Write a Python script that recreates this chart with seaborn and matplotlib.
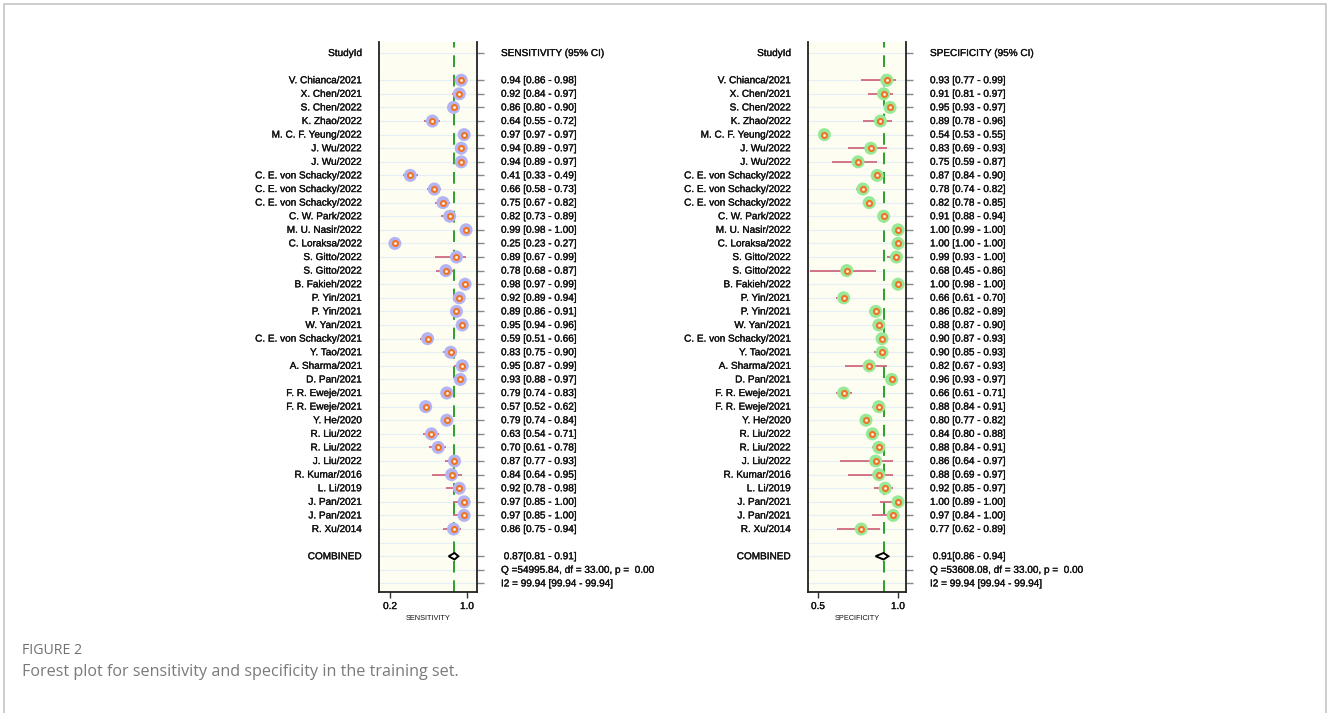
import numpy as np
import pandas as pd
import matplotlib
matplotlib.use("Agg")
import matplotlib.pyplot as plt
import matplotlib.transforms as mtransforms
import matplotlib.patheffects as pe
from matplotlib.lines import Line2D
from matplotlib.patches import Polygon
import seaborn as sns

# study labels (top to bottom)
studies = ["V. Chianca/2021", "X. Chen/2021", "S. Chen/2022", "K. Zhao/2022",
           "M. C. F. Yeung/2022", "J. Wu/2022", "J. Wu/2022",
           "C. E. von Schacky/2022", "C. E. von Schacky/2022", "C. E. von Schacky/2022",
           "C. W. Park/2022", "M. U. Nasir/2022", "C. Loraksa/2022", "S. Gitto/2022",
           "S. Gitto/2022", "B. Fakieh/2022", "P. Yin/2021", "P. Yin/2021", "W. Yan/2021",
           "C. E. von Schacky/2021", "Y. Tao/2021", "A. Sharma/2021", "D. Pan/2021",
           "F. R. Eweje/2021", "F. R. Eweje/2021", "Y. He/2020", "R. Liu/2022",
           "R. Liu/2022", "J. Liu/2022", "R. Kumar/2016", "L. Li/2019", "J. Pan/2021",
           "J. Pan/2021", "R. Xu/2014"]

sens = [0.94, 0.92, 0.86, 0.64, 0.97, 0.94, 0.94, 0.41, 0.66, 0.75, 0.82, 0.99, 0.25, 0.89,
        0.78, 0.98, 0.92, 0.89, 0.95, 0.59, 0.83, 0.95, 0.93, 0.79, 0.57, 0.79, 0.63, 0.70,
        0.87, 0.84, 0.92, 0.97, 0.97, 0.86]
sens_lo = [0.86, 0.84, 0.80, 0.55, 0.97, 0.89, 0.89, 0.33, 0.58, 0.67, 0.73, 0.98, 0.23, 0.67,
           0.68, 0.97, 0.89, 0.86, 0.94, 0.51, 0.75, 0.87, 0.88, 0.74, 0.52, 0.74, 0.54, 0.61,
           0.77, 0.64, 0.78, 0.85, 0.85, 0.75]
sens_hi = [0.98, 0.97, 0.90, 0.72, 0.97, 0.97, 0.97, 0.49, 0.73, 0.82, 0.89, 1.00, 0.27, 0.99,
           0.87, 0.99, 0.94, 0.91, 0.96, 0.66, 0.90, 0.99, 0.97, 0.83, 0.62, 0.84, 0.71, 0.78,
           0.93, 0.95, 0.98, 1.00, 1.00, 0.94]

spec = [0.93, 0.91, 0.95, 0.89, 0.54, 0.83, 0.75, 0.87, 0.78, 0.82, 0.91, 1.00, 1.00, 0.99,
        0.68, 1.00, 0.66, 0.86, 0.88, 0.90, 0.90, 0.82, 0.96, 0.66, 0.88, 0.80, 0.84, 0.88,
        0.86, 0.88, 0.92, 1.00, 0.97, 0.77]
spec_lo = [0.77, 0.81, 0.93, 0.78, 0.53, 0.69, 0.59, 0.84, 0.74, 0.78, 0.88, 0.99, 1.00, 0.93,
           0.45, 0.98, 0.61, 0.82, 0.87, 0.87, 0.85, 0.67, 0.93, 0.61, 0.84, 0.77, 0.80, 0.84,
           0.64, 0.69, 0.85, 0.89, 0.84, 0.62]
spec_hi = [0.99, 0.97, 0.97, 0.96, 0.55, 0.93, 0.87, 0.90, 0.82, 0.85, 0.94, 1.00, 1.00, 1.00,
           0.86, 1.00, 0.70, 0.89, 0.90, 0.93, 0.93, 0.93, 0.97, 0.71, 0.91, 0.82, 0.88, 0.91,
           0.97, 0.97, 0.97, 1.00, 1.00, 0.89]

sens_pooled = [0.87, 0.81, 0.91]
spec_pooled = [0.91, 0.86, 0.94]
sens_q = "Q =54995.84, df = 33.00, p =  0.00"
spec_q = "Q =53608.08, df = 33.00, p =  0.00"
sens_i2 = "I2 = 99.94 [99.94 - 99.94]"
spec_i2 = "I2 = 99.94 [99.94 - 99.94]"

W, H = 1328, 713
sns.set_style("white")
plt.rcParams["font.family"] = ["Liberation Sans", "DejaVu Sans"]

fig = plt.figure(figsize=(W / 100, H / 100), dpi=100)

FS = 7.2
TXT = "#111111"
bold_fx = [pe.withStroke(linewidth=0.22, foreground=TXT)]
n = len(studies)
study_rows = np.arange(2, 2 + n)
comb_row, q_row, i2_row = n + 3, n + 4, n + 5


def px(x):
    return x / W


def put(ax, x, y, s, tr, ha):
    ax.text(x, y, s, transform=tr, ha=ha, va="center", fontsize=FS, color=TXT,
            path_effects=bold_fx)


def draw_panel(left_px, est, lo, hi, pooled, q_text, i2_text, name, xlim, xticks,
               bubble, label_right_px, value_left_px):
    ax = fig.add_axes([px(left_px), 1 - 592 / H, px(98), 550 / H])
    ax.set_facecolor("#fdfdf1")
    ax.set_xlim(*xlim)
    ax.set_ylim(39.63, -0.81)

    grid_rows = [0] + list(range(2, i2_row + 1))
    for r in grid_rows:
        ax.axhline(r, color="#e6eef6", lw=0.9, zorder=0)

    ax.axvline(pooled[0], color="#2aa02a", lw=1.4, dashes=(6, 4), zorder=1)

    ax.hlines(study_rows, lo, hi, color="#c8506a", lw=1.1, zorder=2)

    df = pd.DataFrame({"est": est, "row": study_rows})
    sns.scatterplot(data=df, x="est", y="row", s=88, color=bubble, edgecolor="none",
                    ax=ax, zorder=3, legend=False)
    sns.scatterplot(data=df, x="est", y="row", s=13, color="#fff2e4", edgecolor="#f07426",
                    linewidth=1.5, ax=ax, zorder=4, legend=False)

    e, l, h = pooled
    dh = 0.24
    ax.add_patch(Polygon([(l, comb_row), (e, comb_row - dh), (h, comb_row), (e, comb_row + dh)],
                         closed=True, facecolor="white", edgecolor="black", lw=1.4, zorder=5))

    for s in ["left", "right", "bottom"]:
        ax.spines[s].set_visible(True)
        ax.spines[s].set_color("#222222")
        ax.spines[s].set_linewidth(1.3)
    ax.spines["top"].set_visible(False)

    ax.yaxis.tick_right()
    ax.set_yticks([0] + list(study_rows) + [comb_row, q_row, i2_row])
    ax.set_yticklabels([])
    ax.tick_params(axis="y", right=True, length=5, width=1, color="#888888", direction="out")
    ax.set_xticks(xticks)
    ax.set_xticklabels([f"{t:.1f}" for t in xticks])
    ax.tick_params(axis="x", bottom=True, length=4, width=1, color="#333333",
                   labelsize=FS, labelcolor=TXT, pad=2.5, direction="out")
    for t in ax.get_xticklabels():
        t.set_path_effects(bold_fx)
    ax.set_xlabel(name, fontsize=5.3, labelpad=3, color=TXT)
    ax.set_ylabel("")

    tr = mtransforms.blended_transform_factory(fig.transFigure, ax.transData)
    lx = px(label_right_px)
    vx = px(value_left_px)
    put(ax, lx, 0, "StudyId", tr, "right")
    put(ax, vx, 0, f"{name} (95% CI)", tr, "left")
    for r, lab, a, b, c in zip(study_rows, studies, est, lo, hi):
        put(ax, lx, r, lab, tr, "right")
        put(ax, vx, r, f"{a:.2f} [{b:.2f} - {c:.2f}]", tr, "left")
    put(ax, lx, comb_row, "COMBINED", tr, "right")
    put(ax, vx, comb_row, f" {e:.2f}[{l:.2f} - {h:.2f}]", tr, "left")
    put(ax, vx, q_row, q_text, tr, "left")
    put(ax, vx, i2_row, i2_text, tr, "left")
    return ax


draw_panel(379, sens, sens_lo, sens_hi, sens_pooled, sens_q, sens_i2, "SENSITIVITY",
           (0.085, 1.104), [0.2, 1.0], "#b4b4f2", 362, 501)
draw_panel(808, spec, spec_lo, spec_hi, spec_pooled, spec_q, spec_i2, "SPECIFICITY",
           (0.4375, 1.05), [0.5, 1.0], "#98e898", 791, 930)

# caption
fig.text(px(22), 1 - 651 / H, "FIGURE 2", ha="left", va="center", fontsize=10.2,
         color="#707070", family=["Open Sans", "DejaVu Sans"])
fig.text(px(22), 1 - 672 / H, "Forest plot for sensitivity and specificity in the training set.",
         ha="left", va="center", fontsize=11.6, color="#7a7a7a",
         family=["Open Sans", "DejaVu Sans"])

# page frame (open at the bottom)
frame_c = "#c4c4c4"
fig.add_artist(Line2D([px(4), px(4), px(1326), px(1326)], [0, 1 - 4 / H, 1 - 4 / H, 0],
                      transform=fig.transFigure, color=frame_c, lw=1.2))

fig.savefig("out.png", dpi=100, facecolor="white")
